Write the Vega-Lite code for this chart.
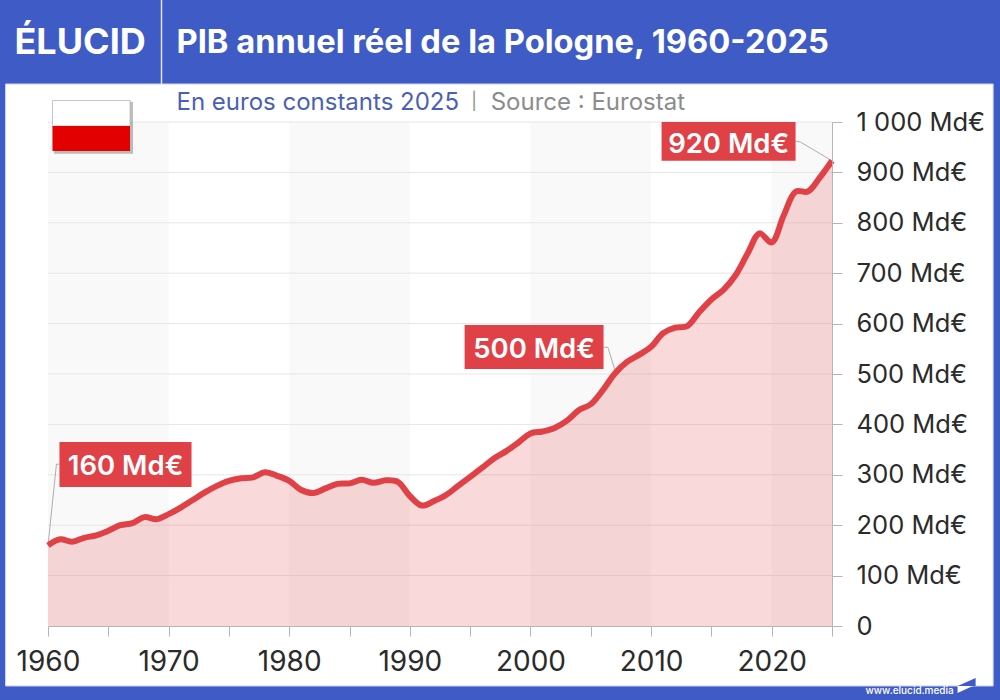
{
  "$schema": "https://vega.github.io/schema/vega-lite/v6.json",
  "width": 784,
  "height": 504,
  "autosize": "none",
  "padding": {"left": 48, "top": 122, "right": 168, "bottom": 74},
  "background": "#3f5bc6",
  "config": {"view": {"stroke": null}, "font": "Inter"},
  "datasets": {
    "pib": [
      {"year": 1960, "value": 160}, {"year": 1961, "value": 172}, {"year": 1962, "value": 167}, {"year": 1963, "value": 175},
      {"year": 1964, "value": 180}, {"year": 1965, "value": 189}, {"year": 1966, "value": 200}, {"year": 1967, "value": 204},
      {"year": 1968, "value": 216}, {"year": 1969, "value": 212}, {"year": 1970, "value": 222}, {"year": 1971, "value": 235},
      {"year": 1972, "value": 250}, {"year": 1973, "value": 265}, {"year": 1974, "value": 278}, {"year": 1975, "value": 288},
      {"year": 1976, "value": 293}, {"year": 1977, "value": 295}, {"year": 1978, "value": 305}, {"year": 1979, "value": 298},
      {"year": 1980, "value": 288}, {"year": 1981, "value": 270}, {"year": 1982, "value": 264}, {"year": 1983, "value": 273},
      {"year": 1984, "value": 282}, {"year": 1985, "value": 283}, {"year": 1986, "value": 290}, {"year": 1987, "value": 284},
      {"year": 1988, "value": 289}, {"year": 1989, "value": 286}, {"year": 1990, "value": 258}, {"year": 1991, "value": 239},
      {"year": 1992, "value": 248}, {"year": 1993, "value": 260}, {"year": 1994, "value": 278}, {"year": 1995, "value": 296},
      {"year": 1996, "value": 314}, {"year": 1997, "value": 333}, {"year": 1998, "value": 347}, {"year": 1999, "value": 364},
      {"year": 2000, "value": 382}, {"year": 2001, "value": 386}, {"year": 2002, "value": 393}, {"year": 2003, "value": 407},
      {"year": 2004, "value": 428}, {"year": 2005, "value": 440}, {"year": 2006, "value": 468}, {"year": 2007, "value": 501},
      {"year": 2008, "value": 524}, {"year": 2009, "value": 538}, {"year": 2010, "value": 554}, {"year": 2011, "value": 581},
      {"year": 2012, "value": 592}, {"year": 2013, "value": 595}, {"year": 2014, "value": 623}, {"year": 2015, "value": 648},
      {"year": 2016, "value": 667}, {"year": 2017, "value": 696}, {"year": 2018, "value": 739}, {"year": 2019, "value": 779},
      {"year": 2020, "value": 761}, {"year": 2021, "value": 815}, {"year": 2022, "value": 862}, {"year": 2023, "value": 862},
      {"year": 2024, "value": 890}, {"year": 2025, "value": 923}
    ],
    "bands": [
      {"year": 1960, "year2": 1970, "value": 0, "value2": 1000},
      {"year": 1980, "year2": 1990, "value": 0, "value2": 1000},
      {"year": 2000, "year2": 2010, "value": 0, "value2": 1000},
      {"year": 2020, "year2": 2025, "value": 0, "value2": 1000}
    ],
    "grid": [
      {"year": 1960, "year2": 2025, "value": 100}, {"year": 1960, "year2": 2025, "value": 200},
      {"year": 1960, "year2": 2025, "value": 300}, {"year": 1960, "year2": 2025, "value": 400},
      {"year": 1960, "year2": 2025, "value": 500}, {"year": 1960, "year2": 2025, "value": 600},
      {"year": 1960, "year2": 2025, "value": 700}, {"year": 1960, "year2": 2025, "value": 800},
      {"year": 1960, "year2": 2025, "value": 900}, {"year": 1960, "year2": 2025, "value": 1000}
    ],
    "connectors": [
      {"id": "a", "year": 1960, "value": 160}, {"id": "a", "year": 1960.7, "value": 321}, {"id": "a", "year": 1960.95, "value": 321},
      {"id": "b", "year": 2006.06, "value": 553}, {"id": "b", "year": 2006.42, "value": 553}, {"id": "b", "year": 2007, "value": 508},
      {"id": "c", "year": 2021.98, "value": 962}, {"id": "c", "year": 2022.4, "value": 960}, {"id": "c", "year": 2025, "value": 923}
    ],
    "boxes": [
      {"year": 1960.95, "year2": 1971.9, "value": 276, "value2": 365, "label": "160 Md€", "cx": 1966.43, "cy": 316},
      {"year": 1994.54, "year2": 2006.06, "value": 510, "value2": 597, "label": "500 Md€", "cx": 2000.3, "cy": 547},
      {"year": 2010.87, "year2": 2021.98, "value": 923, "value2": 1000, "label": "920 Md€", "cx": 2016.43, "cy": 955}
    ]
  },
  "encoding": {
    "x": {
      "field": "year",
      "type": "quantitative",
      "title": null,
      "scale": {"domain": [1960, 2025], "nice": false, "zero": false},
      "axis": {
        "values": [1960, 1965, 1970, 1975, 1980, 1985, 1990, 1995, 2000, 2005, 2010, 2015, 2020, 2025],
        "labelExpr": "datum.value % 10 == 0 ? format(datum.value, 'd') : ''",
        "grid": false,
        "zindex": 1,
        "domainColor": "#b5b5b5",
        "tickColor": "#b5b5b5",
        "tickSize": 10,
        "labelFontSize": 28,
        "labelColor": "#2b2b2b",
        "labelPadding": 12,
        "labelOverlap": false,
        "labelBound": false,
        "labelFlush": false
      }
    },
    "y": {
      "field": "value",
      "type": "quantitative",
      "title": null,
      "stack": null,
      "scale": {"domain": [0, 1000], "nice": false},
      "axis": {
        "orient": "right",
        "values": [0, 100, 200, 300, 400, 500, 600, 700, 800, 900, 1000],
        "labelExpr": "datum.value == 0 ? '0' : datum.value == 1000 ? '1 000 Md€' : datum.value + ' Md€'",
        "grid": false,
        "zindex": 1,
        "domainColor": "#b5b5b5",
        "tickColor": "#b5b5b5",
        "tickSize": 10,
        "labelFontSize": 25.5,
        "labelColor": "#2b2b2b",
        "labelPadding": 14,
        "labelOverlap": false,
        "labelBound": false
      }
    }
  },
  "layer": [
    {
      "data": {"values": [{"year": 1956.48, "year2": 2038.36, "value": -119, "value2": 1075.4}]},
      "mark": {"type": "rect", "fill": "white", "stroke": "#c9d2f0", "strokeWidth": 1},
      "encoding": {"x2": {"field": "year2"}, "y2": {"field": "value2"}}
    },
    {
      "data": {"values": [{"year": 1969.41, "value": 1075.4, "value2": 1242}]},
      "mark": {"type": "rule", "color": "#dfe4f6", "strokeWidth": 1.5},
      "encoding": {"y2": {"field": "value2"}}
    },
    {
      "data": {"name": "bands"},
      "mark": {"type": "rect", "fill": "#f9f9f9"},
      "encoding": {"x2": {"field": "year2"}, "y2": {"field": "value2"}}
    },
    {
      "data": {"name": "grid"},
      "mark": {"type": "rule", "color": "#e6e6e6", "strokeWidth": 1},
      "encoding": {"x2": {"field": "year2"}}
    },
    {
      "data": {"name": "pib"},
      "mark": {"type": "area", "color": "#e04146", "opacity": 0.2, "interpolate": "catmull-rom"}
    },
    {
      "data": {"name": "connectors"},
      "mark": {"type": "line", "color": "#999999", "strokeWidth": 0.8},
      "encoding": {"detail": {"field": "id"}}
    },
    {
      "data": {"name": "pib"},
      "mark": {"type": "line", "color": "#e04146", "strokeWidth": 6, "interpolate": "catmull-rom"}
    },
    {
      "data": {"values": [{"year": 1960.5, "year2": 1967.05, "value": 937, "value2": 1040}]},
      "mark": {"type": "rect", "fill": "#000000", "opacity": 0.25},
      "encoding": {"x2": {"field": "year2"}, "y2": {"field": "value2"}}
    },
    {
      "data": {"values": [{"year": 1960.37, "year2": 1966.8, "value": 992, "value2": 1042.7}]},
      "mark": {"type": "rect", "fill": "white", "stroke": "#b5b5b5", "strokeWidth": 0.8},
      "encoding": {"x2": {"field": "year2"}, "y2": {"field": "value2"}}
    },
    {
      "data": {"values": [{"year": 1960.37, "year2": 1966.8, "value": 942.5, "value2": 992}]},
      "mark": {"type": "rect", "fill": "#e30000"},
      "encoding": {"x2": {"field": "year2"}, "y2": {"field": "value2"}}
    },
    {
      "data": {"name": "boxes"},
      "mark": {"type": "rect", "fill": "#e04146"},
      "encoding": {"x2": {"field": "year2"}, "y2": {"field": "value2"}}
    },
    {
      "data": {"name": "boxes"},
      "mark": {"type": "text", "color": "white", "fontSize": 27.5, "fontWeight": 600, "align": "center", "baseline": "middle"},
      "encoding": {
        "x": {"field": "cx", "type": "quantitative"},
        "y": {"field": "cy", "type": "quantitative"},
        "text": {"field": "label"}
      }
    },
    {
      "data": {"values": [{"year": 1957.22, "value": 1156, "label": "ÉLUCID"}]},
      "mark": {"type": "text", "color": "white", "fontSize": 36, "fontWeight": "bold", "align": "left", "baseline": "middle"},
      "encoding": {"text": {"field": "label"}}
    },
    {
      "data": {"values": [{"year": 1970.65, "value": 1156, "label": "PIB annuel réel de la Pologne, 1960-2025"}]},
      "mark": {"type": "text", "color": "white", "fontSize": 32.7, "fontWeight": "bold", "align": "left", "baseline": "middle"},
      "encoding": {"text": {"field": "label"}}
    },
    {
      "data": {"values": [{"year": 1970.65, "value": 1038, "label": "En euros constants 2025"}]},
      "mark": {"type": "text", "color": "#4a5fb8", "fontSize": 24, "align": "left", "baseline": "middle"},
      "encoding": {"text": {"field": "label"}}
    },
    {
      "data": {"values": [{"year": 1995.1, "value": 1040, "label": "|"}]},
      "mark": {"type": "text", "color": "#8c8c8c", "fontSize": 17, "align": "left", "baseline": "middle"},
      "encoding": {"text": {"field": "label"}}
    },
    {
      "data": {"values": [{"year": 1996.7, "value": 1038, "label": "Source : Eurostat"}]},
      "mark": {"type": "text", "color": "#8c8c8c", "fontSize": 24, "align": "left", "baseline": "middle"},
      "encoding": {"text": {"field": "label"}}
    },
    {
      "data": {"values": [{"year": 2027.78, "value": -129, "label": "www.elucid.media"}]},
      "mark": {"type": "text", "color": "white", "fontSize": 10, "fontWeight": 500, "align": "left", "baseline": "middle"},
      "encoding": {"text": {"field": "label"}}
    },
    {
      "data": {"values": [{"year": 2036.16, "value": -111}]},
      "mark": {"type": "point", "filled": true, "opacity": 1, "color": "#3f5bc6", "size": 324, "shape": "M-1,0.44 L1,-0.44 L1,0.44 Z"}
    },
    {
      "data": {"values": [{"year": 2036.08, "value": -125}]},
      "mark": {"type": "point", "filled": true, "opacity": 1, "color": "white", "size": 324, "shape": "M-0.9,-0.33 L0.8,-0.33 L-0.9,0.45 Z"}
    }
  ]
}
